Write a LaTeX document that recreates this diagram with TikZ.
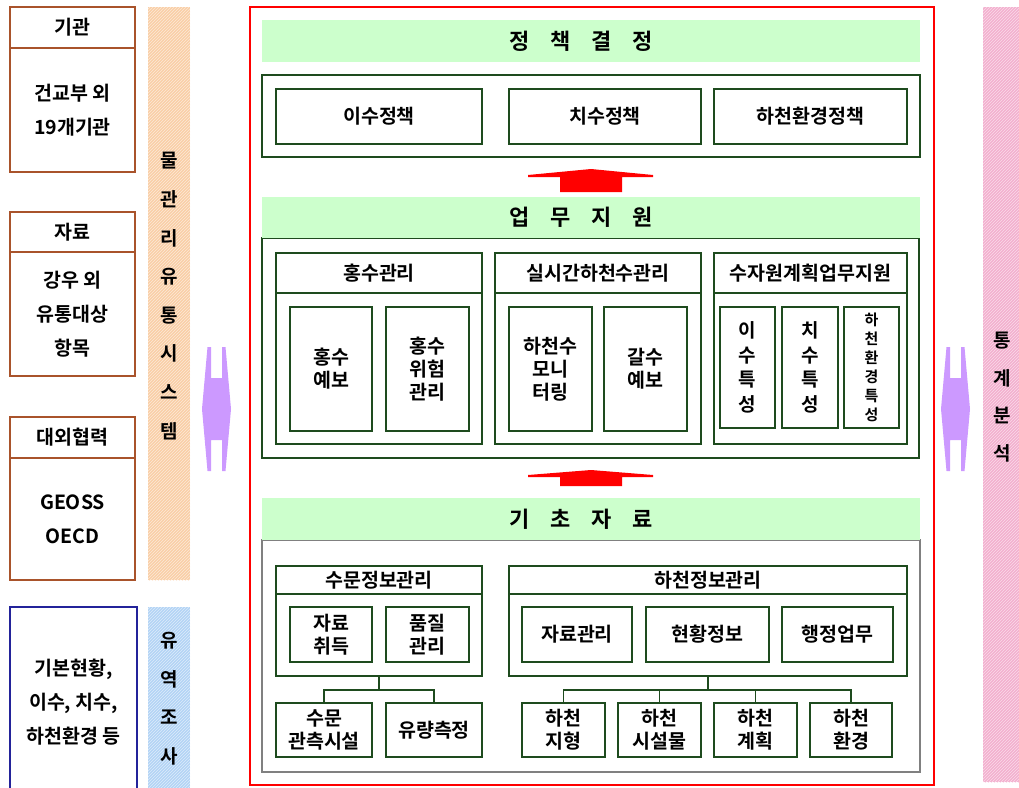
\documentclass[tikz,border=0pt]{standalone}
\usepackage{fontspec}
\setmainfont{Noto Sans CJK KR}[BoldFont={Noto Sans CJK KR Bold}]
\usetikzlibrary{patterns}
\definecolor{dkg}{HTML}{1E4B1E}
\definecolor{hdr}{HTML}{CCFFCC}
\definecolor{brn}{HTML}{A9532B}
\definecolor{nvy}{HTML}{23239A}
\definecolor{org}{HTML}{F9CEA6}
\definecolor{pnk}{HTML}{F3B0CE}
\definecolor{blu}{HTML}{B3D4F5}
\definecolor{purp}{HTML}{CC99FF}
\definecolor{gry}{HTML}{808080}
\begin{document}
\begin{tikzpicture}[x=1pt,y=-1pt,
  every node/.style={font=\bfseries\fontsize{19.5}{23}\selectfont, align=center, inner sep=0pt, rectangle},
  gbox/.style={draw=dkg, line width=1.6pt, fill=white},
  bbox/.style={draw=brn, line width=1.8pt, fill=white},
  hbar/.style={fill=hdr},
  htxt/.style={font=\bfseries\fontsize{22}{24}\selectfont},
  widetxt/.style={font=\bfseries\fontsize{19.5}{34}\selectfont},
  vtxt/.style={font=\bfseries\fontsize{19}{38.6}\selectfont},
  conn/.style={draw=dkg, line width=1.5pt}
]
\useasboundingbox (0,0) rectangle (1019,787);
\clip (0,0) rectangle (1019,787);

% ---------- left column ----------
\node[bbox, minimum width=125pt, minimum height=41pt] (L1h) at (72.5,27.5) {기관};
\node[bbox, minimum width=125pt, minimum height=124pt, widetxt] (L1) at (72.5,110) {건교부 외\\19개기관};
\node[bbox, minimum width=125pt, minimum height=40pt] (L2h) at (72.5,232) {자료};
\node[bbox, minimum width=125pt, minimum height=124pt, widetxt] (L2) at (72.5,314) {강우 외\\유통대상\\항목};
\node[bbox, minimum width=125pt, minimum height=41pt] (L3h) at (72.5,437.5) {대외협력};
\node[bbox, minimum width=125pt, minimum height=122pt, widetxt] (L3) at (72.5,519) {GEOSS\\OECD};
\node[draw=nvy, line width=1.8pt, fill=white, minimum width=127pt, minimum height=190pt, widetxt] (L4) at (73.5,702) {기본현황,\\이수, 치수,\\하천환경 등};

% ---------- stripes ----------
\fill[org] (148,7) rectangle (190,580);
\fill[pattern=north east lines, pattern color=white!55!org] (148,7) rectangle (190,580);
\node[vtxt] (S1) at (169,296) {물\\관\\리\\유\\통\\시\\스\\템};
\fill[blu] (148,607) rectangle (190,795);
\fill[pattern=north east lines, pattern color=white!55!blu] (148,607) rectangle (190,795);
\node[vtxt] (S2) at (169,698.5) {유\\역\\조\\사};
\fill[pnk] (983,7) rectangle (1025,782);
\fill[pattern=north east lines, pattern color=white!55!pnk] (983,7) rectangle (1025,782);
\node[vtxt, font=\bfseries\fontsize{19}{37.7}\selectfont] (S3) at (1002,397) {통\\계\\분\\석};

% ---------- purple double arrows ----------
\foreach \cx in {216.5,955.5}{
  \fill[purp, shift={(\cx,409)}] (-9,-62) -- (-5.5,-62) -- (-5.5,-31) -- (5.5,-31) -- (5.5,-62) -- (9,-62)
     -- (14.5,0) -- (9,62) -- (5.5,62) -- (5.5,31) -- (-5.5,31) -- (-5.5,62) -- (-9,62) -- (-14.5,0) -- cycle;
}

% ---------- main frame ----------
\draw[red, line width=1.3pt] (250,7) rectangle (934,785);

% ---------- policy ----------
\node[hbar, minimum width=658pt, minimum height=42pt] (H1) at (591,41) {};
\node[htxt] (H1t) at (581,41) {정\hspace{21pt}책\hspace{21pt}결\hspace{21pt}정};
\node[gbox, minimum width=658pt, minimum height=82pt] (C1) at (591,116) {};
\node[gbox, minimum width=206pt, minimum height=55pt] (p1) at (379,116.5) {이수정책};
\node[gbox, minimum width=192pt, minimum height=55pt] (p2) at (605,116.5) {치수정책};
\node[gbox, minimum width=193pt, minimum height=55pt] (p3) at (810.5,116.5) {하천환경정책};

% red arrow 1
\fill[red, shift={(591,169)}] (-63,6) -- (0,0) -- (62,6) -- (62,8) -- (31,8) -- (31,23) -- (-31,23) -- (-31,8) -- (-63,8) -- cycle;

% ---------- support ----------
\node[gbox, minimum width=657pt, minimum height=220pt] (C2) at (590.5,348) {};
\node[hbar, minimum width=658pt, minimum height=41pt] (H2) at (591,217.5) {};
\node[htxt] (H2t) at (581,217.5) {업\hspace{21pt}무\hspace{21pt}지\hspace{21pt}원};

\node[gbox, minimum width=206pt, minimum height=151pt] (g1) at (379,368.5) {};
\node[gbox, minimum width=206pt, minimum height=40pt] (g1h) at (379,273) {홍수관리};
\node[gbox, minimum width=82pt, minimum height=124pt] (g1a) at (331,369) {홍수\\예보};
\node[gbox, minimum width=83pt, minimum height=124pt] (g1b) at (427.5,369) {홍수\\위험\\관리};

\node[gbox, minimum width=206pt, minimum height=151pt] (g2) at (598,368.5) {};
\node[gbox, minimum width=206pt, minimum height=40pt] (g2h) at (598,273) {실시간하천수관리};
\node[gbox, minimum width=83pt, minimum height=124pt] (g2a) at (550.5,369) {하천수\\모니\\터링};
\node[gbox, minimum width=83pt, minimum height=124pt] (g2b) at (645.5,369) {갈수\\예보};

\node[gbox, minimum width=193pt, minimum height=151pt] (g3) at (810.5,368.5) {};
\node[gbox, minimum width=193pt, minimum height=40pt] (g3h) at (810.5,273) {수자원계획업무지원};
\node[gbox, minimum width=55pt, minimum height=121pt, font=\bfseries\fontsize{19}{24.5}\selectfont] (g3a) at (747.5,367.5) {이\\수\\특\\성};
\node[gbox, minimum width=56pt, minimum height=121pt, font=\bfseries\fontsize{19}{24.5}\selectfont] (g3b) at (810,367.5) {치\\수\\특\\성};
\node[gbox, minimum width=55pt, minimum height=121pt, font=\bfseries\fontsize{15}{19}\selectfont] (g3c) at (871.5,367.5) {하\\천\\환\\경\\특\\성};

% red arrow 2
\fill[red, shift={(591,470)}] (-63,5) -- (0,0) -- (62,5) -- (62,7) -- (31,7) -- (31,16) -- (-31,16) -- (-31,7) -- (-63,7) -- cycle;

% ---------- basic data ----------
\node[draw=gry, line width=1.5pt, fill=white, minimum width=658pt, minimum height=232pt] (C3) at (591,656) {};
\node[hbar, minimum width=658pt, minimum height=42pt] (H3) at (591,519) {};
\node[htxt] (H3t) at (581,519) {기\hspace{21pt}초\hspace{21pt}자\hspace{21pt}료};

\node[gbox, minimum width=206pt, minimum height=82pt] (s1) at (379,635) {};
\node[gbox, minimum width=206pt, minimum height=28pt] (s1h) at (379,580) {수문정보관리};
\node[gbox, minimum width=82pt, minimum height=55pt] (s1a) at (331,634.5) {자료\\취득};
\node[gbox, minimum width=83pt, minimum height=55pt] (s1b) at (427.5,634.5) {품질\\관리};
\node[gbox, minimum width=96pt, minimum height=54pt] (s2a) at (324,730) {수문\\관측시설};
\node[gbox, minimum width=96pt, minimum height=54pt] (s2b) at (434,730) {유량측정};
\draw[conn] (s1.south) -- ++(0,13) -| (s2a.north);
\draw[conn] (s1.south) -- ++(0,13) -| (s2b.north);

\node[gbox, minimum width=398pt, minimum height=82pt] (r1) at (708,635) {};
\node[gbox, minimum width=398pt, minimum height=28pt] (r1h) at (708,580) {하천정보관리};
\node[gbox, minimum width=110pt, minimum height=55pt] (r1a) at (577,634.5) {자료관리};
\node[gbox, minimum width=123pt, minimum height=55pt] (r1b) at (707.5,634.5) {현황정보};
\node[gbox, minimum width=111pt, minimum height=55pt] (r1c) at (837.5,634.5) {행정업무};
\node[gbox, minimum width=83pt, minimum height=54pt] (r2a) at (563.5,730) {하천\\지형};
\node[gbox, minimum width=83pt, minimum height=54pt] (r2b) at (659.5,730) {하천\\시설물};
\node[gbox, minimum width=83pt, minimum height=54pt] (r2c) at (755.5,730) {하천\\계획};
\node[gbox, minimum width=82pt, minimum height=54pt] (r2d) at (851,730) {하천\\환경};
\foreach \t in {r2a,r2b,r2c,r2d}{
  \draw[conn] (r1.south) -- ++(0,13) -| (\t.north);
}
\end{tikzpicture}
\end{document}
